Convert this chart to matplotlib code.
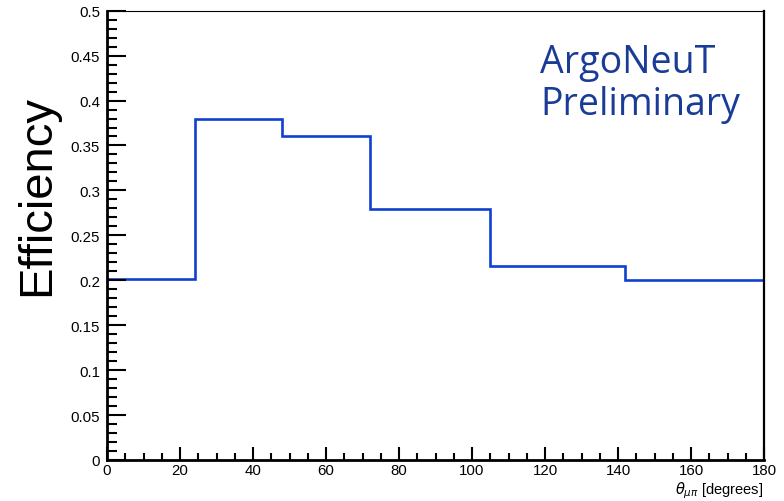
import matplotlib
matplotlib.use("Agg")
import matplotlib.pyplot as plt
from matplotlib.ticker import MultipleLocator

# bin edges in degrees and efficiency per bin
bin_edges = [0, 24, 48, 72, 105, 142, 180]
efficiency = [0.201, 0.380, 0.361, 0.279, 0.216, 0.200]

x_major = 20
x_minor = 5
y_major = 0.05
y_minor = 0.01

fig = plt.figure(figsize=(7.84, 5.02), dpi=100)
ax = fig.add_axes([0.1365, 0.0817, 0.838, 0.895])

ax.stairs(efficiency, bin_edges, baseline=None, color="#1040d0", linewidth=1.9)

ax.set_xlim(0, 180)
ax.set_ylim(0, 0.5)

ax.xaxis.set_major_locator(MultipleLocator(x_major))
ax.xaxis.set_minor_locator(MultipleLocator(x_minor))
ax.yaxis.set_major_locator(MultipleLocator(y_major))
ax.yaxis.set_minor_locator(MultipleLocator(y_minor))
ax.yaxis.set_major_formatter(plt.FuncFormatter(lambda v, _: f"{v:g}"))

ax.tick_params(axis="y", which="major", direction="in", length=13.5, width=1.5,
               pad=5, labelsize=10.8)
ax.tick_params(axis="y", which="minor", direction="in", length=7, width=1.5)
ax.tick_params(axis="x", which="major", direction="in", length=9.5, width=1.5,
               pad=2, labelsize=10.8)
ax.tick_params(axis="x", which="minor", direction="in", length=5, width=1.5)
ax.tick_params(top=False, right=False, which="both")

for lab in ax.get_xticklabels() + ax.get_yticklabels():
    lab.set_fontfamily("Liberation Sans")

ax.spines["left"].set_linewidth(2.0)
ax.spines["bottom"].set_linewidth(2.0)
ax.spines["right"].set_linewidth(1.6)
ax.spines["top"].set_linewidth(0.8)

# ROOT-style labels placed by hand
fig.text(0.047, 0.611, "Efficiency", rotation=90, ha="center", va="center",
         fontsize=34, fontfamily="Liberation Sans")
fig.text(0.973, 0.016, r"$\theta_{\mu\pi}$ [degrees]", ha="right", va="baseline",
         fontsize=10.5, fontfamily="Liberation Sans")

ax.text(0.659, 0.863, "ArgoNeuT", transform=ax.transAxes,
        ha="left", va="baseline", fontsize=27, color="#1a3c96",
        fontfamily="Open Sans")
ax.text(0.659, 0.770, "Preliminary", transform=ax.transAxes,
        ha="left", va="baseline", fontsize=27, color="#1a3c96",
        fontfamily="Open Sans")

fig.savefig("out.png", dpi=100)
